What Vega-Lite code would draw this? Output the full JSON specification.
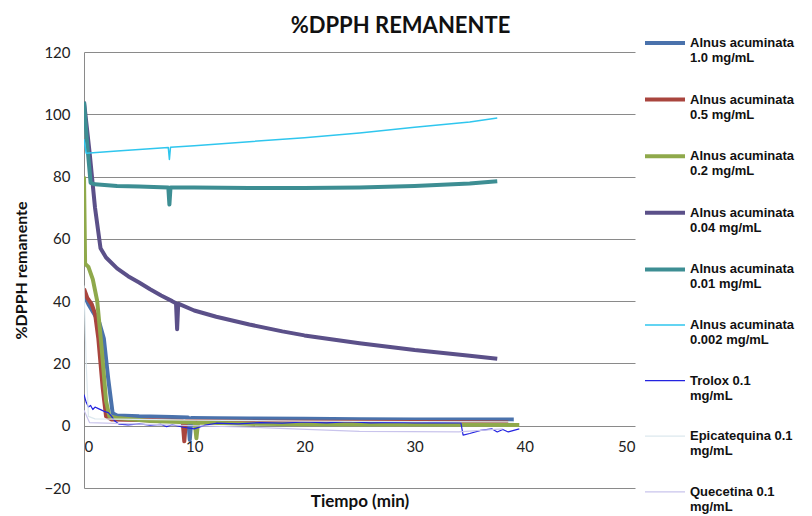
{
  "$schema": "https://vega.github.io/schema/vega-lite/v6.json",
  "width": 551,
  "height": 436,
  "autosize": {"type": "none"},
  "padding": {"left": 84, "top": 52, "right": 177, "bottom": 28},
  "background": "white",
  "title": {"text": "%DPPH REMANENTE", "anchor": "middle", "dx": 41, "dy": 27, "offset": 10, "font": "Lato", "fontSize": 22, "fontWeight": "bold", "color": "#111111"},
  "datasets": {
    "d": [
      {"s": "Alnus acuminata 1.0 mg/mL", "t": 0, "v": 42}, {"s": "Alnus acuminata 1.0 mg/mL", "t": 0.4, "v": 39}, {"s": "Alnus acuminata 1.0 mg/mL", "t": 0.9, "v": 36}, {"s": "Alnus acuminata 1.0 mg/mL", "t": 1.4, "v": 33}, {"s": "Alnus acuminata 1.0 mg/mL", "t": 1.8, "v": 28}, {"s": "Alnus acuminata 1.0 mg/mL", "t": 2.2, "v": 15}, {"s": "Alnus acuminata 1.0 mg/mL", "t": 2.6, "v": 4}, {"s": "Alnus acuminata 1.0 mg/mL", "t": 3, "v": 3.3}, {"s": "Alnus acuminata 1.0 mg/mL", "t": 5, "v": 3}, {"s": "Alnus acuminata 1.0 mg/mL", "t": 8, "v": 2.8}, {"s": "Alnus acuminata 1.0 mg/mL", "t": 9.45, "v": 2.6}, {"s": "Alnus acuminata 1.0 mg/mL", "t": 9.6, "v": -4.5}, {"s": "Alnus acuminata 1.0 mg/mL", "t": 9.75, "v": 2.5}, {"s": "Alnus acuminata 1.0 mg/mL", "t": 12, "v": 2.4}, {"s": "Alnus acuminata 1.0 mg/mL", "t": 15, "v": 2.3}, {"s": "Alnus acuminata 1.0 mg/mL", "t": 20, "v": 2.2}, {"s": "Alnus acuminata 1.0 mg/mL", "t": 25, "v": 2.1}, {"s": "Alnus acuminata 1.0 mg/mL", "t": 30, "v": 2.0}, {"s": "Alnus acuminata 1.0 mg/mL", "t": 35, "v": 2.0}, {"s": "Alnus acuminata 1.0 mg/mL", "t": 39, "v": 2.0},

      {"s": "Alnus acuminata 0.5 mg/mL", "t": 0, "v": 44}, {"s": "Alnus acuminata 0.5 mg/mL", "t": 0.3, "v": 41}, {"s": "Alnus acuminata 0.5 mg/mL", "t": 0.7, "v": 39}, {"s": "Alnus acuminata 0.5 mg/mL", "t": 1.0, "v": 36}, {"s": "Alnus acuminata 0.5 mg/mL", "t": 1.3, "v": 28}, {"s": "Alnus acuminata 0.5 mg/mL", "t": 1.7, "v": 12}, {"s": "Alnus acuminata 0.5 mg/mL", "t": 2.0, "v": 3}, {"s": "Alnus acuminata 0.5 mg/mL", "t": 2.5, "v": 2}, {"s": "Alnus acuminata 0.5 mg/mL", "t": 5, "v": 1.8}, {"s": "Alnus acuminata 0.5 mg/mL", "t": 8.95, "v": 1.5}, {"s": "Alnus acuminata 0.5 mg/mL", "t": 9.1, "v": -5}, {"s": "Alnus acuminata 0.5 mg/mL", "t": 9.25, "v": 1.5}, {"s": "Alnus acuminata 0.5 mg/mL", "t": 15, "v": 1.3}, {"s": "Alnus acuminata 0.5 mg/mL", "t": 20, "v": 1.3}, {"s": "Alnus acuminata 0.5 mg/mL", "t": 30, "v": 1.2}, {"s": "Alnus acuminata 0.5 mg/mL", "t": 38.5, "v": 1.0},

      {"s": "Alnus acuminata 0.2 mg/mL", "t": 0, "v": 80}, {"s": "Alnus acuminata 0.2 mg/mL", "t": 0.1, "v": 52}, {"s": "Alnus acuminata 0.2 mg/mL", "t": 0.4, "v": 51}, {"s": "Alnus acuminata 0.2 mg/mL", "t": 0.8, "v": 47}, {"s": "Alnus acuminata 0.2 mg/mL", "t": 1.2, "v": 40}, {"s": "Alnus acuminata 0.2 mg/mL", "t": 1.6, "v": 25}, {"s": "Alnus acuminata 0.2 mg/mL", "t": 2.0, "v": 8}, {"s": "Alnus acuminata 0.2 mg/mL", "t": 2.3, "v": 3}, {"s": "Alnus acuminata 0.2 mg/mL", "t": 3, "v": 2.5}, {"s": "Alnus acuminata 0.2 mg/mL", "t": 6, "v": 1.5}, {"s": "Alnus acuminata 0.2 mg/mL", "t": 10.05, "v": 1}, {"s": "Alnus acuminata 0.2 mg/mL", "t": 10.2, "v": -4}, {"s": "Alnus acuminata 0.2 mg/mL", "t": 10.35, "v": 1}, {"s": "Alnus acuminata 0.2 mg/mL", "t": 15, "v": 0.6}, {"s": "Alnus acuminata 0.2 mg/mL", "t": 20, "v": 0.5}, {"s": "Alnus acuminata 0.2 mg/mL", "t": 30, "v": 0.4}, {"s": "Alnus acuminata 0.2 mg/mL", "t": 39.5, "v": 0.2},

      {"s": "Alnus acuminata 0.04 mg/mL", "t": 0, "v": 104}, {"s": "Alnus acuminata 0.04 mg/mL", "t": 0.5, "v": 88}, {"s": "Alnus acuminata 0.04 mg/mL", "t": 1.0, "v": 70}, {"s": "Alnus acuminata 0.04 mg/mL", "t": 1.5, "v": 57}, {"s": "Alnus acuminata 0.04 mg/mL", "t": 2, "v": 54}, {"s": "Alnus acuminata 0.04 mg/mL", "t": 3, "v": 50.5}, {"s": "Alnus acuminata 0.04 mg/mL", "t": 4, "v": 48}, {"s": "Alnus acuminata 0.04 mg/mL", "t": 5, "v": 46}, {"s": "Alnus acuminata 0.04 mg/mL", "t": 6, "v": 43.8}, {"s": "Alnus acuminata 0.04 mg/mL", "t": 7, "v": 41.8}, {"s": "Alnus acuminata 0.04 mg/mL", "t": 8, "v": 40}, {"s": "Alnus acuminata 0.04 mg/mL", "t": 8.35, "v": 39.3}, {"s": "Alnus acuminata 0.04 mg/mL", "t": 8.45, "v": 31}, {"s": "Alnus acuminata 0.04 mg/mL", "t": 8.55, "v": 39.2}, {"s": "Alnus acuminata 0.04 mg/mL", "t": 10, "v": 37}, {"s": "Alnus acuminata 0.04 mg/mL", "t": 12, "v": 35}, {"s": "Alnus acuminata 0.04 mg/mL", "t": 15, "v": 32.5}, {"s": "Alnus acuminata 0.04 mg/mL", "t": 18, "v": 30.3}, {"s": "Alnus acuminata 0.04 mg/mL", "t": 20, "v": 29}, {"s": "Alnus acuminata 0.04 mg/mL", "t": 25, "v": 26.5}, {"s": "Alnus acuminata 0.04 mg/mL", "t": 30, "v": 24.3}, {"s": "Alnus acuminata 0.04 mg/mL", "t": 35, "v": 22.5}, {"s": "Alnus acuminata 0.04 mg/mL", "t": 37.5, "v": 21.5},

      {"s": "Alnus acuminata 0.01 mg/mL", "t": 0, "v": 104}, {"s": "Alnus acuminata 0.01 mg/mL", "t": 0.3, "v": 90}, {"s": "Alnus acuminata 0.01 mg/mL", "t": 0.6, "v": 78}, {"s": "Alnus acuminata 0.01 mg/mL", "t": 1, "v": 77.5}, {"s": "Alnus acuminata 0.01 mg/mL", "t": 3, "v": 77}, {"s": "Alnus acuminata 0.01 mg/mL", "t": 5, "v": 76.8}, {"s": "Alnus acuminata 0.01 mg/mL", "t": 7.65, "v": 76.5}, {"s": "Alnus acuminata 0.01 mg/mL", "t": 7.75, "v": 71}, {"s": "Alnus acuminata 0.01 mg/mL", "t": 7.85, "v": 76.5}, {"s": "Alnus acuminata 0.01 mg/mL", "t": 10, "v": 76.5}, {"s": "Alnus acuminata 0.01 mg/mL", "t": 15, "v": 76.3}, {"s": "Alnus acuminata 0.01 mg/mL", "t": 20, "v": 76.3}, {"s": "Alnus acuminata 0.01 mg/mL", "t": 25, "v": 76.5}, {"s": "Alnus acuminata 0.01 mg/mL", "t": 30, "v": 77}, {"s": "Alnus acuminata 0.01 mg/mL", "t": 35, "v": 77.8}, {"s": "Alnus acuminata 0.01 mg/mL", "t": 37.5, "v": 78.5},

      {"s": "Alnus acuminata 0.002 mg/mL", "t": 0, "v": 92}, {"s": "Alnus acuminata 0.002 mg/mL", "t": 0.2, "v": 87.5}, {"s": "Alnus acuminata 0.002 mg/mL", "t": 3, "v": 88.2}, {"s": "Alnus acuminata 0.002 mg/mL", "t": 7.65, "v": 89.3}, {"s": "Alnus acuminata 0.002 mg/mL", "t": 7.75, "v": 85.5}, {"s": "Alnus acuminata 0.002 mg/mL", "t": 7.85, "v": 89.4}, {"s": "Alnus acuminata 0.002 mg/mL", "t": 10, "v": 89.9}, {"s": "Alnus acuminata 0.002 mg/mL", "t": 15, "v": 91.2}, {"s": "Alnus acuminata 0.002 mg/mL", "t": 20, "v": 92.5}, {"s": "Alnus acuminata 0.002 mg/mL", "t": 25, "v": 94}, {"s": "Alnus acuminata 0.002 mg/mL", "t": 30, "v": 95.8}, {"s": "Alnus acuminata 0.002 mg/mL", "t": 35, "v": 97.5}, {"s": "Alnus acuminata 0.002 mg/mL", "t": 37.5, "v": 98.8},

      {"s": "Trolox 0.1 mg/mL", "t": 0, "v": 10}, {"s": "Trolox 0.1 mg/mL", "t": 0.2, "v": 7.5}, {"s": "Trolox 0.1 mg/mL", "t": 0.4, "v": 6}, {"s": "Trolox 0.1 mg/mL", "t": 0.6, "v": 6.5}, {"s": "Trolox 0.1 mg/mL", "t": 0.8, "v": 5.2}, {"s": "Trolox 0.1 mg/mL", "t": 1.0, "v": 6}, {"s": "Trolox 0.1 mg/mL", "t": 1.3, "v": 5.5}, {"s": "Trolox 0.1 mg/mL", "t": 1.6, "v": 5}, {"s": "Trolox 0.1 mg/mL", "t": 1.9, "v": 4.5}, {"s": "Trolox 0.1 mg/mL", "t": 2.2, "v": 4.2}, {"s": "Trolox 0.1 mg/mL", "t": 2.5, "v": 3}, {"s": "Trolox 0.1 mg/mL", "t": 2.8, "v": 1.5}, {"s": "Trolox 0.1 mg/mL", "t": 3.2, "v": 0.5}, {"s": "Trolox 0.1 mg/mL", "t": 4, "v": 0.3}, {"s": "Trolox 0.1 mg/mL", "t": 5, "v": 0.6}, {"s": "Trolox 0.1 mg/mL", "t": 6, "v": 0.2}, {"s": "Trolox 0.1 mg/mL", "t": 7, "v": 0.4}, {"s": "Trolox 0.1 mg/mL", "t": 7.5, "v": -0.3}, {"s": "Trolox 0.1 mg/mL", "t": 8, "v": 0.3}, {"s": "Trolox 0.1 mg/mL", "t": 9, "v": -0.5}, {"s": "Trolox 0.1 mg/mL", "t": 10, "v": -1}, {"s": "Trolox 0.1 mg/mL", "t": 11, "v": 0.2}, {"s": "Trolox 0.1 mg/mL", "t": 12, "v": 0.8}, {"s": "Trolox 0.1 mg/mL", "t": 14, "v": 0.6}, {"s": "Trolox 0.1 mg/mL", "t": 16, "v": 1}, {"s": "Trolox 0.1 mg/mL", "t": 18, "v": 0.8}, {"s": "Trolox 0.1 mg/mL", "t": 20, "v": 1.2}, {"s": "Trolox 0.1 mg/mL", "t": 22, "v": 0.9}, {"s": "Trolox 0.1 mg/mL", "t": 24, "v": 1.3}, {"s": "Trolox 0.1 mg/mL", "t": 26, "v": 0.9}, {"s": "Trolox 0.1 mg/mL", "t": 28, "v": 1.1}, {"s": "Trolox 0.1 mg/mL", "t": 30, "v": 0.9}, {"s": "Trolox 0.1 mg/mL", "t": 32, "v": 1}, {"s": "Trolox 0.1 mg/mL", "t": 34.2, "v": 0.9}, {"s": "Trolox 0.1 mg/mL", "t": 34.4, "v": -3}, {"s": "Trolox 0.1 mg/mL", "t": 35, "v": -2.5}, {"s": "Trolox 0.1 mg/mL", "t": 36, "v": -1.5}, {"s": "Trolox 0.1 mg/mL", "t": 37, "v": -1}, {"s": "Trolox 0.1 mg/mL", "t": 37.5, "v": -2}, {"s": "Trolox 0.1 mg/mL", "t": 38, "v": -1.2}, {"s": "Trolox 0.1 mg/mL", "t": 38.5, "v": -2}, {"s": "Trolox 0.1 mg/mL", "t": 39, "v": -1.5}, {"s": "Trolox 0.1 mg/mL", "t": 39.5, "v": -1},

      {"s": "Epicatequina 0.1 mg/mL", "t": 0, "v": 45}, {"s": "Epicatequina 0.1 mg/mL", "t": 0.2, "v": 20}, {"s": "Epicatequina 0.1 mg/mL", "t": 0.4, "v": 3}, {"s": "Epicatequina 0.1 mg/mL", "t": 1, "v": 2.2}, {"s": "Epicatequina 0.1 mg/mL", "t": 10, "v": 1.8}, {"s": "Epicatequina 0.1 mg/mL", "t": 20, "v": 1.5}, {"s": "Epicatequina 0.1 mg/mL", "t": 30, "v": 1.3}, {"s": "Epicatequina 0.1 mg/mL", "t": 39, "v": 1.2},

      {"s": "Quecetina 0.1 mg/mL", "t": 0, "v": 5}, {"s": "Quecetina 0.1 mg/mL", "t": 0.5, "v": 1}, {"s": "Quecetina 0.1 mg/mL", "t": 5, "v": 0.5}, {"s": "Quecetina 0.1 mg/mL", "t": 15, "v": -0.5}, {"s": "Quecetina 0.1 mg/mL", "t": 25, "v": -1.8}, {"s": "Quecetina 0.1 mg/mL", "t": 34, "v": -2}, {"s": "Quecetina 0.1 mg/mL", "t": 38, "v": -1}
    ]
  },
  "data": {"name": "d"},
  "mark": {"type": "line", "strokeJoin": "round", "clip": true},
  "encoding": {
    "x": {
      "field": "t", "type": "quantitative",
      "scale": {"domain": [0, 50], "nice": false},
      "axis": {
        "title": "Tiempo (min)", "values": [0, 10, 20, 30, 40, 50], "grid": false, "domain": false, "ticks": false,
        "offset": -62, "labelPadding": 13, "labelFont": "Lato", "labelFontSize": 15, "labelColor": "#222222",
        "titleFont": "Lato", "titleFontSize": 17, "titleFontWeight": "bold", "titleColor": "#111111",
        "titleY": 75, "titleBaseline": "middle"
      }
    },
    "y": {
      "field": "v", "type": "quantitative",
      "scale": {"domain": [-20, 120], "nice": false},
      "axis": {
        "title": "%DPPH remanente", "values": [-20, 0, 20, 40, 60, 80, 100, 120], "grid": true, "gridColor": "#8a8a8a", "gridOpacity": 1,
        "domain": true, "domainColor": "#8a8a8a", "ticks": false, "labelPadding": 14,
        "labelFont": "Lato", "labelFontSize": 15, "labelColor": "#222222",
        "titleFont": "Lato", "titleFontSize": 16, "titleFontWeight": "bold", "titleColor": "#111111", "titlePadding": 14
      }
    },
    "color": {
      "field": "s", "type": "nominal",
      "scale": {
        "domain": ["Alnus acuminata 1.0 mg/mL", "Alnus acuminata 0.5 mg/mL", "Alnus acuminata 0.2 mg/mL", "Alnus acuminata 0.04 mg/mL", "Alnus acuminata 0.01 mg/mL", "Alnus acuminata 0.002 mg/mL", "Trolox 0.1 mg/mL", "Epicatequina 0.1 mg/mL", "Quecetina 0.1 mg/mL"],
        "range": ["#4A72AC", "#A9453E", "#8FA94B", "#5B5089", "#3D8E93", "#2FC6EE", "#2323E0", "#DCE8EE", "#C9C4EC"]
      },
      "legend": {
        "title": null, "orient": "none", "legendX": 559, "legendY": -31,
        "symbolType": "stroke", "symbolSize": 1600, "labelOffset": 3,
        "labelFont": "Liberation Sans", "labelFontSize": 13, "labelFontWeight": "bold", "labelColor": "#111111", "labelLimit": 300,
        "labelBaseline": "middle", "rowPadding": 12.6,
        "labelExpr": "indexof(datum.label,'Alnus')==0 ? ['Alnus acuminata', substring(datum.label,16)] : [substring(datum.label,0,lastindexof(datum.label,' ')), 'mg/mL']"
      }
    },
    "strokeWidth": {
      "field": "s", "type": "nominal",
      "scale": {
        "type": "ordinal",
        "domain": ["Alnus acuminata 1.0 mg/mL", "Alnus acuminata 0.5 mg/mL", "Alnus acuminata 0.2 mg/mL", "Alnus acuminata 0.04 mg/mL", "Alnus acuminata 0.01 mg/mL", "Alnus acuminata 0.002 mg/mL", "Trolox 0.1 mg/mL", "Epicatequina 0.1 mg/mL", "Quecetina 0.1 mg/mL"],
        "range": [4, 4, 4, 4, 4, 1.5, 1.2, 1.2, 1.2]
      }
    }
  },
  "config": {"view": {"stroke": null}}
}
